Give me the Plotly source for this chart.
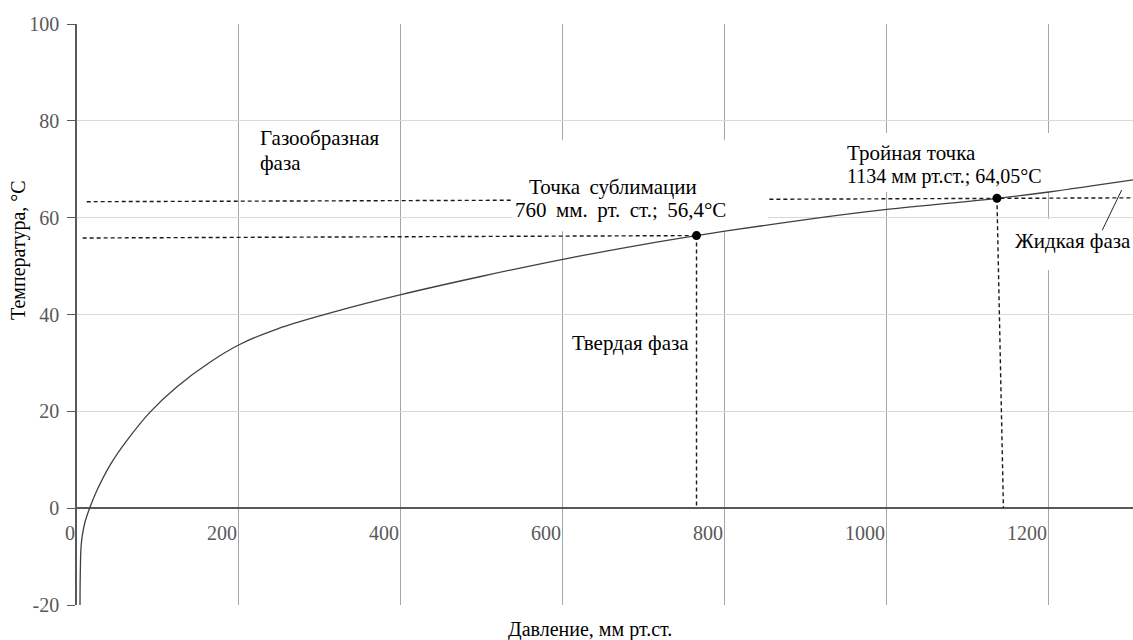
import plotly.graph_objects as go

# ---- data ----
pressure = [3.7, 4.0, 5.0, 6.6, 10, 15.6, 24.7, 41.2, 61.7, 90.5, 123.5, 164.6, 200.8,
            246.9, 321, 400, 500, 600, 700, 765, 800, 900, 1000, 1136, 1200, 1304]
temperature = [-20, -14, -8, -5.6, -2.8, 0, 3.7, 9.0, 14.0, 19.9, 25.1, 30.2, 33.8,
               37.0, 40.7, 44.1, 47.9, 51.4, 54.5, 56.3, 57.2, 59.6, 61.7, 64.0, 65.3, 67.8]

point_names = ["Точка сублимации", "Тройная точка"]
point_x = [765, 1136]
point_y = [56.3, 64.0]

x_ticks = [0, 200, 400, 600, 800, 1000, 1200]
y_ticks = [-20, 0, 20, 40, 60, 80, 100]

# dashed guide lines
sub_h_x = [7, 765]
sub_h_y = [55.8, 56.3]
sub_v_x = [765, 765]
sub_v_y = [56.3, 0]
tri_h_x = [12, 537, None, 855, 1304]
tri_h_y = [63.3, 63.6, None, 63.8, 64.1]
tri_v_x = [1136, 1144]
tri_v_y = [64.0, 0]
leader_x = [1290, 1266]
leader_y = [65.7, 57.4]

FONT = "Liberation Serif"
DASH = "4px,3px"

fig = go.Figure()

# white boxes behind text (between grid and traces)
boxes = [
    (537, 853, 57.2, 76.0),
    (936, 1216, 65.3, 77.5),
    (1140, 1304, 49.2, 59.7),
]
for x0, x1, y0, y1 in boxes:
    fig.add_shape(type="rect", x0=x0, x1=x1, y0=y0, y1=y1, xref="x", yref="y",
                  fillcolor="white", line_width=0, layer="between")

dash_line = dict(color="#1a1a1a", width=1.4, dash=DASH)
for xs, ys in [(sub_h_x, sub_h_y), (sub_v_x, sub_v_y), (tri_h_x, tri_h_y), (tri_v_x, tri_v_y)]:
    fig.add_trace(go.Scatter(x=xs, y=ys, mode="lines", line=dash_line,
                             showlegend=False, hoverinfo="skip", connectgaps=False))

fig.add_trace(go.Scatter(x=leader_x, y=leader_y, mode="lines",
                         line=dict(color="#262626", width=1), showlegend=False, hoverinfo="skip"))

fig.add_trace(go.Scatter(x=pressure, y=temperature, mode="lines",
                         line=dict(color="#404040", width=1.3, shape="spline", smoothing=1.0),
                         showlegend=False))

fig.add_trace(go.Scatter(x=point_x, y=point_y, mode="markers", text=point_names,
                         marker=dict(color="black", size=9), showlegend=False))

# text labels (one annotation per line to match the tight line spacing)
SP = " \u2009"  # slightly wider word gap used in the sublimation label
labels = [
    ("Газообразная", 223.5, 76.4, "left", 21),
    ("фаза", 223.5, 71.3, "left", 21),
    ("Точка" + SP + "сублимации", 661.7, 66.3, "center", 21),
    (SP.join(["760", "мм.", "рт.", "ст.;", "56,4°С"]), 671.0, 61.6, "center", 21),
    ("Тройная точка", 948, 73.3, "left", 21),
    ("1134 мм рт.ст.; 64,05°С", 948, 68.6, "left", 20),
    ("Жидкая фаза", 1155.6, 55.2, "left", 21),
    ("Твердая фаза", 608.6, 34.1, "left", 21),
]
for text, lx, ly, anchor, size in labels:
    fig.add_annotation(x=lx, y=ly, text=text, showarrow=False, xanchor=anchor,
                       yanchor="middle", font=dict(family=FONT, size=size, color="black"))

# x tick labels, right-aligned to the tick, just below the zero line
tickfont = dict(family=FONT, size=20, color="#595959")
for t in x_ticks:
    fig.add_annotation(x=t, y=0, text=str(t), showarrow=False, xanchor="right",
                       yanchor="top", yshift=-12, font=tickfont, xref="x", yref="y")

# axis titles
fig.add_annotation(xref="paper", yref="paper", x=-0.0559, y=0.611, text="Температура, °С",
                   textangle=-90, showarrow=False, xanchor="center", yanchor="middle",
                   font=dict(family=FONT, size=20, color="black"))
fig.add_annotation(xref="paper", yref="paper", x=0.486, y=-0.043, text="Давление, мм рт.ст.",
                   showarrow=False, xanchor="center", yanchor="middle",
                   font=dict(family=FONT, size=20, color="black"))

fig.update_xaxes(range=[0, 1304], tickvals=x_ticks, showticklabels=False,
                 showgrid=True, gridcolor="#a6a6a6", gridwidth=1,
                 zeroline=False, showline=False, ticks="")
fig.update_yaxes(range=[-20, 100], tickvals=y_ticks, ticktext=[str(v) for v in y_ticks],
                 showgrid=True, gridcolor="#d9d9d9", gridwidth=1,
                 zeroline=True, zerolinecolor="#595959", zerolinewidth=1.5,
                 showline=True, linecolor="#595959", linewidth=1.5,
                 ticks="outside", ticklen=8, tickcolor="#595959", tickwidth=1.3,
                 tickfont=tickfont, ticklabelstandoff=4)

fig.update_layout(width=1133, height=640, margin=dict(l=77, r=0, t=24, b=35),
                  paper_bgcolor="white", plot_bgcolor="white",
                  font=dict(family=FONT), showlegend=False)

fig.write_html("out.html", config={"displayModeBar": False},
               post_script="document.body.style.margin='0';document.body.style.overflow='hidden';")
